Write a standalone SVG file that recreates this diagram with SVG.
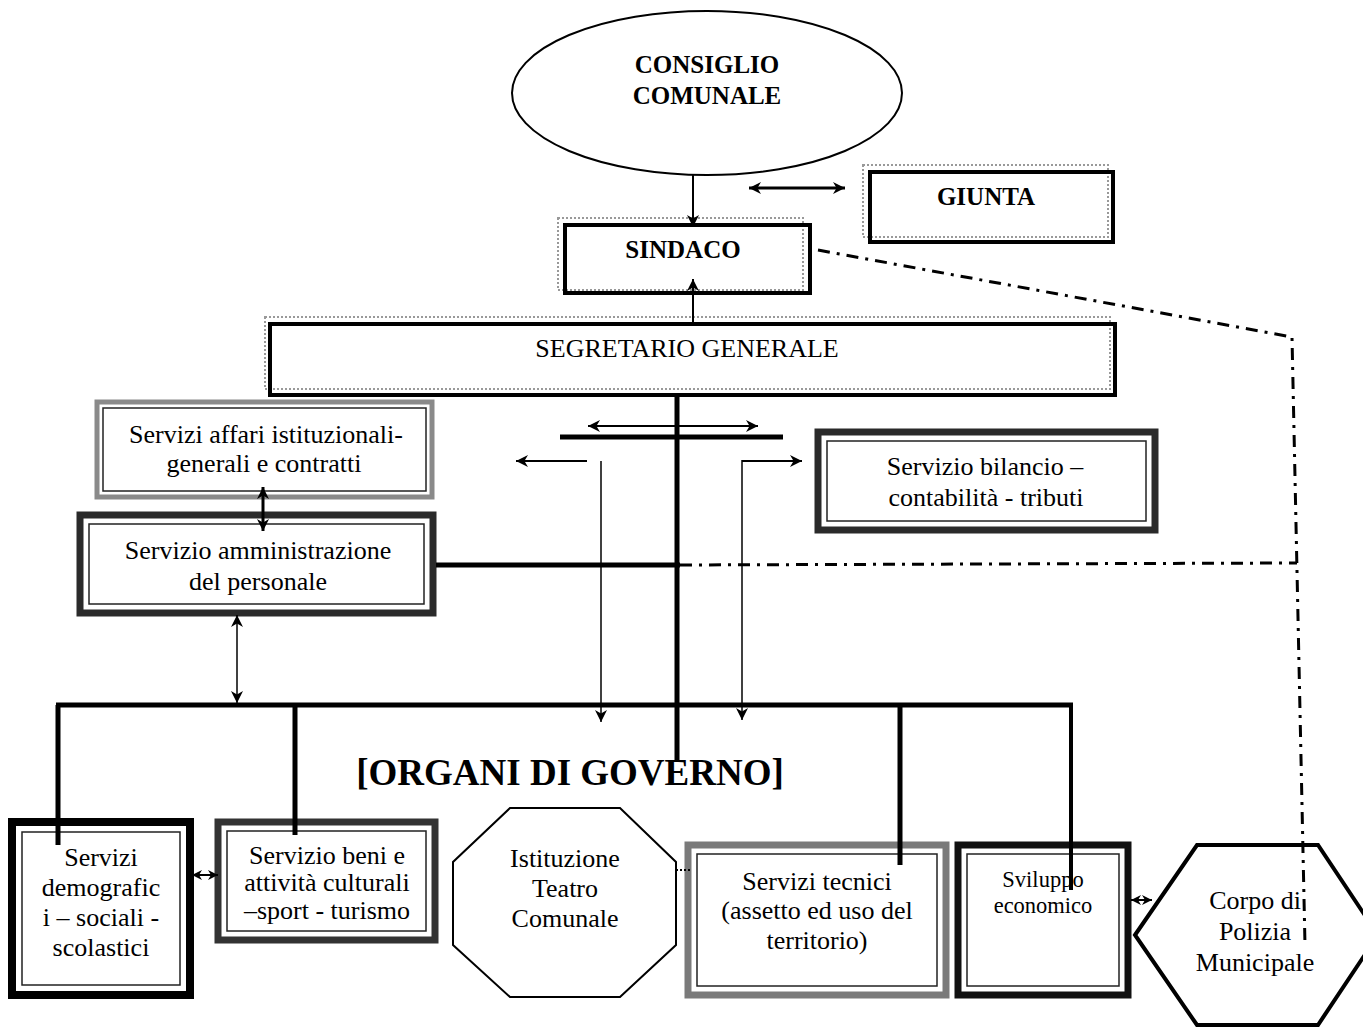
<svg xmlns="http://www.w3.org/2000/svg" width="1363" height="1027" viewBox="0 0 1363 1027">
<style>
text{font-family:"Liberation Serif","Times New Roman",serif;fill:#000;text-anchor:middle}
.b{font-weight:bold;font-size:25px}
.t{font-size:26px}
.s{font-size:22.5px}
.dot{fill:none;stroke:#999;stroke-width:2;stroke-dasharray:2 2}
.blk{fill:none;stroke:#000;stroke-width:4}
.inner{fill:none;stroke:#222;stroke-width:1.5}
.ln{fill:none;stroke:#000}
.dd{fill:none;stroke:#000;stroke-width:3;stroke-dasharray:12 7 3 7}
</style>
<defs>
<marker id="ah" viewBox="0 0 10 10" refX="10" refY="5" markerWidth="15" markerHeight="12" markerUnits="userSpaceOnUse" orient="auto-start-reverse"><path d="M0,0 L10,5 L0,10 L3,5 Z" fill="#000"/></marker>
<marker id="as" viewBox="0 0 10 10" refX="10" refY="5" markerWidth="10" markerHeight="10" markerUnits="userSpaceOnUse" orient="auto-start-reverse"><path d="M0,0 L10,5 L0,10 L3,5 Z" fill="#000"/></marker>
</defs>
<rect width="1363" height="1027" fill="#fff"/>

<g id="consiglio">
<ellipse cx="707" cy="93" rx="195" ry="82" fill="#fff" stroke="#000" stroke-width="2"/>
<text class="b" x="707" y="73">CONSIGLIO</text>
<text class="b" x="707" y="104">COMUNALE</text>
</g>

<g id="sindaco">
<rect class="dot" x="558" y="218" width="245" height="72"/>
<rect class="blk" x="565" y="225" width="245" height="68"/>
<text class="b" x="683" y="258">SINDACO</text>
</g>

<g id="giunta">
<rect class="dot" x="863" y="165" width="245" height="72"/>
<rect class="blk" x="870" y="172" width="243" height="70"/>
<text class="b" x="986" y="205">GIUNTA</text>
</g>

<g id="segretario">
<rect class="dot" x="265" y="317" width="845" height="72"/>
<rect class="blk" x="270" y="324" width="845" height="71"/>
<text class="t" x="687" y="357">SEGRETARIO GENERALE</text>
</g>

<g id="affari">
<rect x="97" y="402" width="335" height="95" fill="#fff" stroke="#8a8a8a" stroke-width="5"/>
<rect class="inner" x="103" y="408" width="323" height="83" stroke="#666"/>
<text class="t" x="266" y="443" font-size="27.5">Servizi affari istituzionali-</text>
<text class="t" x="264" y="472">generali e contratti</text>
</g>

<g id="amministrazione">
<rect x="80" y="515" width="353" height="98" fill="#fff" stroke="#2a2a2a" stroke-width="7"/>
<rect class="inner" x="89" y="524" width="335" height="80"/>
<text class="t" x="258" y="559">Servizio amministrazione</text>
<text class="t" x="258" y="590">del personale</text>
</g>

<g id="bilancio">
<rect x="818" y="432" width="337" height="98" fill="#fff" stroke="#2a2a2a" stroke-width="7"/>
<rect class="inner" x="827" y="441" width="319" height="80"/>
<text class="t" x="985" y="475" font-size="25">Servizio bilancio –</text>
<text class="t" x="986" y="506" font-size="25">contabilità - tributi</text>
</g>

<g id="organi">
<text x="570" y="785" font-weight="bold" font-size="37">[ORGANI DI GOVERNO]</text>
</g>

<g id="demografici">
<rect x="12" y="822" width="178" height="173" fill="#fff" stroke="#000" stroke-width="8"/>
<rect class="inner" x="22" y="832" width="158" height="153"/>
<text class="t" x="101" y="866">Servizi</text>
<text class="t" x="101" y="896">demografic</text>
<text class="t" x="101" y="926">i – sociali -</text>
<text class="t" x="101" y="956">scolastici</text>
</g>

<g id="beni">
<rect x="218" y="822" width="217" height="118" fill="#fff" stroke="#333" stroke-width="7"/>
<rect class="inner" x="227" y="831" width="199" height="100"/>
<text class="t" x="327" y="864" font-size="23">Servizio beni e</text>
<text class="t" x="327" y="891" font-size="23">attività culturali</text>
<text class="t" x="327" y="919" font-size="23">–sport - turismo</text>
</g>

<g id="teatro">
<polygon points="510,808 620,808 676,862 676,945 620,997 510,997 453,945 453,862" fill="#fff" stroke="#000" stroke-width="2"/>
<text class="t" x="565" y="867">Istituzione</text>
<text class="t" x="565" y="897">Teatro</text>
<text class="t" x="565" y="927">Comunale</text>
</g>

<g id="tecnici">
<rect x="688" y="845" width="258" height="150" fill="#fff" stroke="#7a7a7a" stroke-width="7"/>
<rect class="inner" x="697" y="854" width="240" height="132" stroke="#555"/>
<text class="t" x="817" y="890">Servizi tecnici</text>
<text class="t" x="817" y="919">(assetto ed uso del</text>
<text class="t" x="817" y="949">territorio)</text>
</g>

<g id="sviluppo">
<rect x="958" y="845" width="170" height="150" fill="#fff" stroke="#111" stroke-width="7"/>
<rect class="inner" x="967" y="854" width="152" height="132"/>
<text class="s" x="1043" y="887">Sviluppo</text>
<text class="s" x="1043" y="913">economico</text>
</g>

<g id="polizia">
<polygon points="1135,935 1197,845 1318,845 1378,935 1318,1025 1197,1025" fill="#fff" stroke="#000" stroke-width="4"/>
<text class="t" x="1255" y="909">Corpo di</text>
<text class="t" x="1255" y="940">Polizia</text>
<text class="t" x="1255" y="971">Municipale</text>
</g>

<g id="connectors">
<line class="ln" x1="693" y1="175" x2="693" y2="227" stroke-width="2" marker-end="url(#ah)"/>
<line class="ln" x1="693" y1="322" x2="693" y2="279" stroke-width="2" marker-end="url(#ah)"/>
<line class="ln" x1="749" y1="188" x2="845" y2="188" stroke-width="3" marker-start="url(#ah)" marker-end="url(#ah)"/>
<path class="dd" d="M818 250 L1292 337 L1305 945"/>
<line class="ln" x1="677" y1="397" x2="677" y2="762" stroke-width="5"/>
<line class="ln" x1="560" y1="437" x2="783" y2="437" stroke-width="5"/>
<line class="ln" x1="588" y1="426" x2="758" y2="426" stroke-width="2" marker-start="url(#ah)" marker-end="url(#ah)"/>
<line class="ln" x1="587" y1="461" x2="516" y2="461" stroke-width="2" marker-end="url(#ah)"/>
<line class="ln" x1="601" y1="461" x2="601" y2="722" stroke-width="1.5" marker-end="url(#ah)"/>
<line class="ln" x1="742" y1="461" x2="802" y2="461" stroke-width="2" marker-end="url(#ah)"/>
<line class="ln" x1="742" y1="460" x2="742" y2="720" stroke-width="1.5" marker-end="url(#ah)"/>
<line class="ln" x1="263" y1="487" x2="263" y2="531" stroke-width="3" marker-start="url(#ah)" marker-end="url(#ah)"/>
<line class="ln" x1="436" y1="565" x2="680" y2="565" stroke-width="5"/>
<line class="dd" x1="680" y1="565" x2="1297" y2="563"/>
<line class="ln" x1="237" y1="615" x2="237" y2="703" stroke-width="1.5" marker-start="url(#ah)" marker-end="url(#ah)"/>
<line class="ln" x1="56" y1="705" x2="1073" y2="705" stroke-width="5"/>
<line class="ln" x1="58" y1="705" x2="58" y2="845" stroke-width="5"/>
<line class="ln" x1="295" y1="705" x2="295" y2="835" stroke-width="5"/>
<line class="ln" x1="900" y1="705" x2="900" y2="865" stroke-width="5"/>
<line class="ln" x1="1071" y1="705" x2="1071" y2="890" stroke-width="4"/>
<line class="ln" x1="192" y1="875" x2="218" y2="875" stroke-width="2" marker-start="url(#as)" marker-end="url(#as)"/>
<line class="ln" x1="676" y1="870" x2="690" y2="870" stroke-width="2" stroke-dasharray="2 2"/>
<line class="ln" x1="1131" y1="900" x2="1152" y2="900" stroke-width="2" marker-start="url(#as)" marker-end="url(#as)"/>
</g>
</svg>
